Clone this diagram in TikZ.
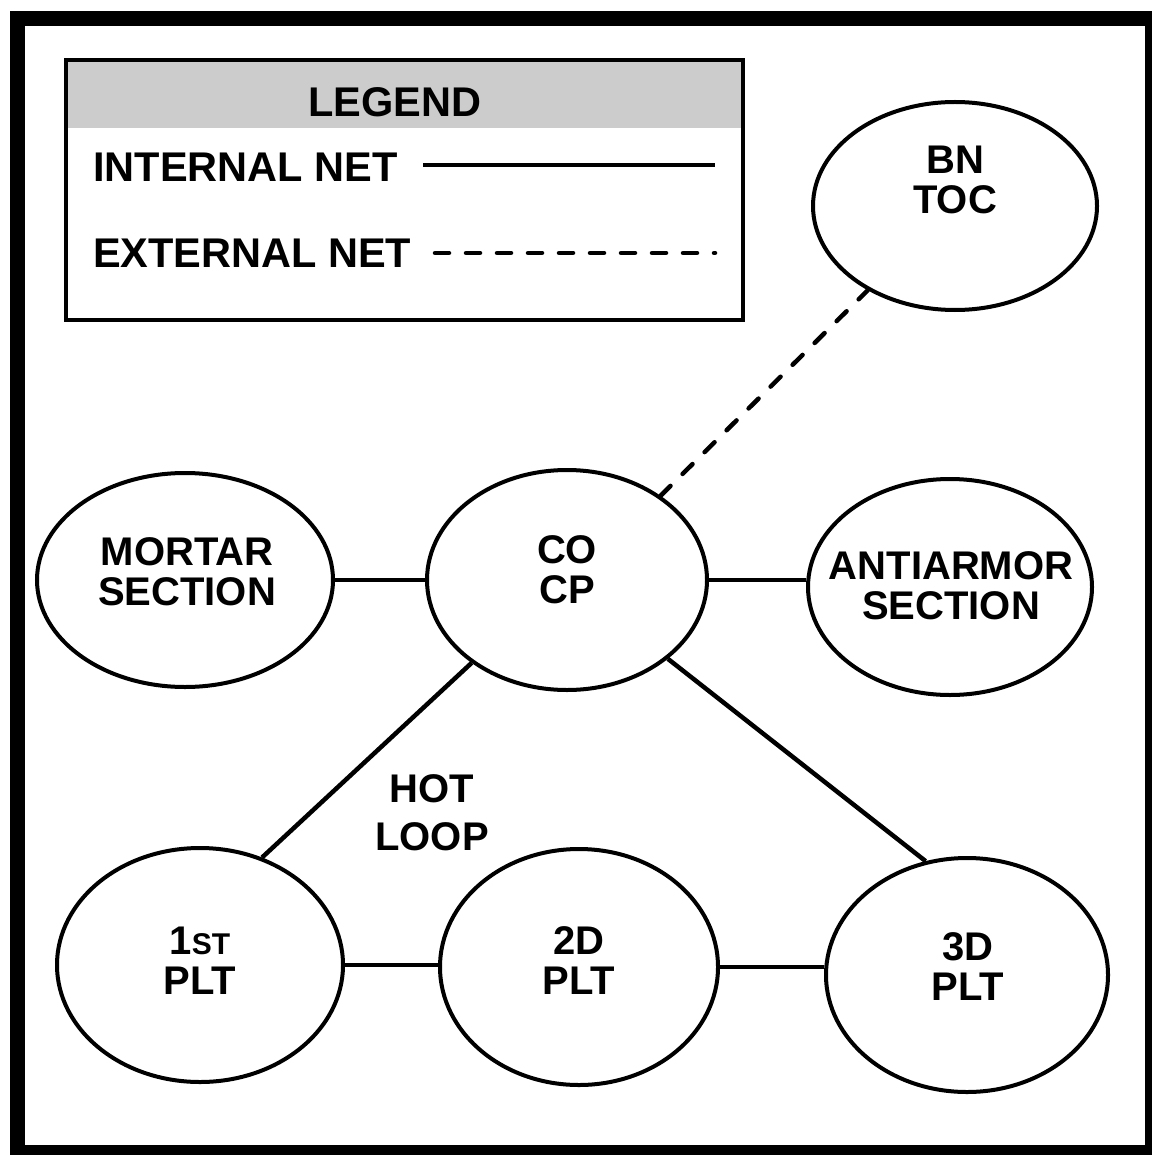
\documentclass[tikz,border=0pt]{standalone}
\usepackage{fontspec}
\setmainfont{Liberation Sans}
\usetikzlibrary{shapes.geometric}

\tikzset{
  unit/.style={draw, ellipse, line width=4pt, inner sep=0pt},
  lbl/.style={align=center, inner sep=0pt, font=\fontsize{40}{40}\selectfont\bfseries},
  keytext/.style={anchor=west, inner sep=0pt, font=\fontsize{41.5}{41.5}\selectfont\bfseries},
  net/.style={line width=4.5pt},
  extnet/.style={net, line cap=round, dash pattern=on 14pt off 17pt}
}

\begin{document}
\begin{tikzpicture}[x=1pt, y=-1pt]
        \useasboundingbox (0,0) rectangle (1151,1155);
        % Outer frame
        \draw[line width=15pt] (17,18.5) rectangle (1152.5,1152.5);

        % Legend
        \fill[black!20] (66,60) rectangle (743,128);
        \draw[line width=4pt] (66,60) rectangle (743,320);
        \node[keytext, anchor=center] (legend) at (395,102) {LEGEND};
        \node[keytext] (internal) at (93,167) {INTERNAL NET};
        \node[keytext] (external) at (93,253) {EXTERNAL NET};
        \draw[net] (423,165) -- (715,165);
        \draw[extnet] (435,253) -- (715,253);

        % Units
        \node[unit, minimum width=284pt, minimum height=208pt] (bn) at (955,206) {};
        \node[unit, minimum width=296pt, minimum height=214pt] (mortar) at (185,580) {};
        \node[unit, minimum width=280pt, minimum height=220pt] (co) at (567,580) {};
        \node[unit, minimum width=284pt, minimum height=216pt] (anti) at (950,587) {};
        \node[unit, minimum width=286pt, minimum height=234pt] (p1) at (200,965) {};
        \node[unit, minimum width=278pt, minimum height=236pt] (p2) at (579,967) {};
        \node[unit, minimum width=282pt, minimum height=234pt] (p3) at (967,975) {};

        % Unit names
        \node[lbl] at (955,180) {BN\\TOC};
        \node[lbl] at (187,572) {MORTAR\\SECTION};
        \node[lbl] at (567,570) {CO\\CP};
        \node[lbl] at (951,586) {ANTIARMOR\\SECTION};
        \node[lbl] at (200,961) {1{\fontsize{30}{30}\selectfont ST}\\PLT};
        \node[lbl] at (579,961) {2D\\PLT};
        \node[lbl] at (968,967) {3D\\PLT};
        \node[lbl, font=\fontsize{40}{48}\selectfont\bfseries] at (432,813) {HOT\\LOOP};

        % Nets
        \draw[net] (mortar.east) -- (mortar.east -| co.west);
        \draw[net] (co.east) -- (co.east -| anti.west);
        \draw[net] (p1.east) -- (p1.east -| p2.west);
        \draw[net] (p2.east) -- (p2.east -| p3.west);
        \draw[net] (co.221) -- (p1.60);
        \draw[net] (co.322) -- (p3.110);
        \draw[extnet] (co.42) -- (bn.224);
\end{tikzpicture}
\end{document}
